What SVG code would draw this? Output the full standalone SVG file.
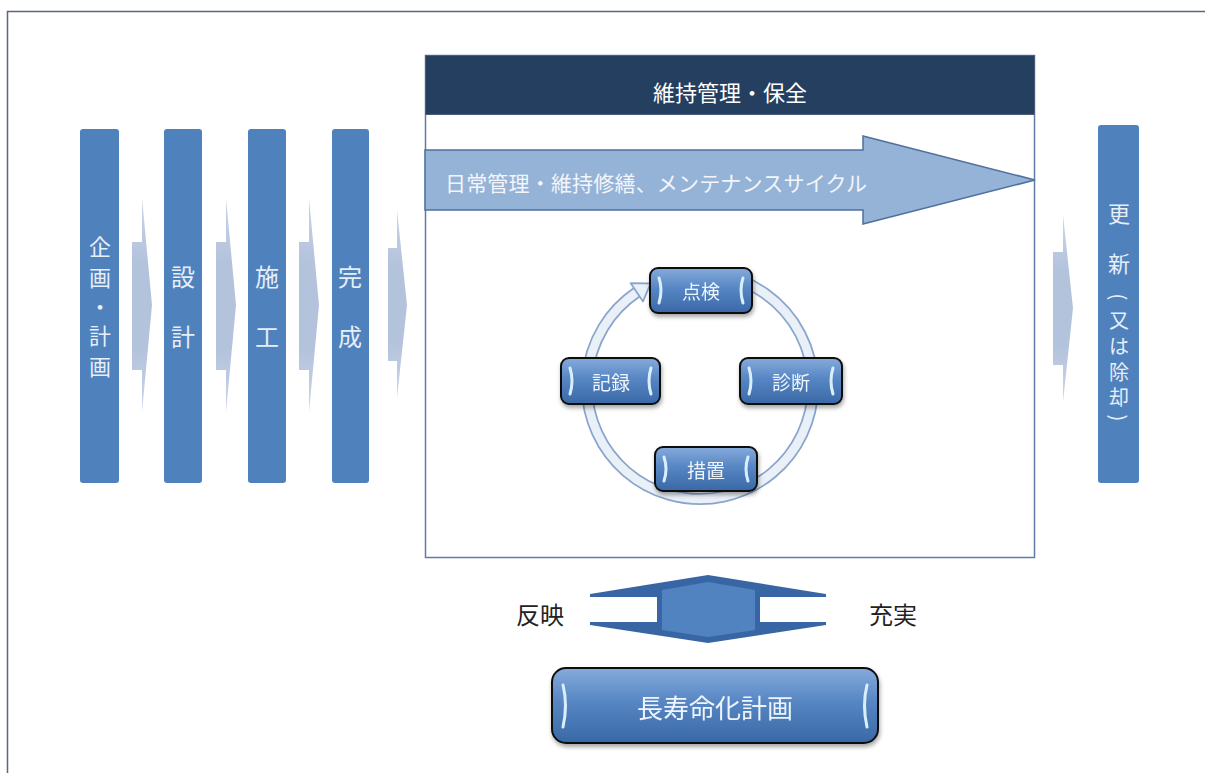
<svg xmlns="http://www.w3.org/2000/svg" width="1205" height="773" viewBox="0 0 1205 773">
<defs>
<style>
text{font-family:"Noto Sans CJK JP","Noto Sans CJK SC",sans-serif;}
.col{fill:#4f81bd;}
.coltxt{fill:#e6eef8;font-size:24px;text-anchor:middle;dominant-baseline:central;}
.c1txt{fill:#e6eef8;font-size:22px;text-anchor:middle;dominant-baseline:central;}
.rtxt{fill:#e6eef8;font-size:20px;text-anchor:middle;dominant-baseline:central;}
.chev{fill:url(#chevGrad);}
.cbox{fill:url(#gloss);stroke:#111;stroke-width:2;}
.hl{fill:none;stroke:#d9efff;stroke-width:3;stroke-linecap:round;}
.ctxt{fill:#eef4fc;font-size:19px;text-anchor:middle;dominant-baseline:central;}
.lbl{fill:#222;font-size:24px;text-anchor:middle;dominant-baseline:central;}
</style>
<linearGradient id="gloss" x1="0" y1="0" x2="0" y2="1">
<stop offset="0" stop-color="#86abdc"/>
<stop offset="0.45" stop-color="#5686c3"/>
<stop offset="1" stop-color="#3a68a6"/>
</linearGradient>
<linearGradient id="chevGrad" x1="0" y1="0" x2="0" y2="1">
<stop offset="0" stop-color="#c9d5e8"/>
<stop offset="0.3" stop-color="#b3c3dc"/>
<stop offset="0.7" stop-color="#b3c3dc"/>
<stop offset="1" stop-color="#c9d5e8"/>
</linearGradient>
<filter id="shadow" x="-20%" y="-20%" width="140%" height="160%">
<feDropShadow dx="1" dy="3" stdDeviation="2" flood-color="#000" flood-opacity="0.35"/>
</filter>
</defs>

<rect x="0" y="0" width="1205" height="773" fill="#ffffff"/>
<g id="frame" fill="none" stroke="#5a6878" stroke-width="1.5">
<path d="M7.5,773 L7.5,11.5 L1205,11.5"/>
</g>

<g id="connectors">
<path class="chev" d="M132,242 L142,242 L142,198 L152,305 L142,412 L142,370 L132,370 Z"/>
<path class="chev" d="M216,242 L226,242 L226,198 L236,305 L226,412 L226,370 L216,370 Z"/>
<path class="chev" d="M299,242 L309,242 L309,198 L319,305 L309,412 L309,370 L299,370 Z"/>
<path class="chev" d="M388,248 L397,248 L397,210 L407,305 L397,398 L397,361 L388,361 Z"/>
<path class="chev" d="M1053,252 L1063,252 L1063,215 L1073,308 L1063,402 L1063,365 L1053,365 Z"/>
<g id="double-arrow">
<path d="M708,575 L826,594 L826,597 L760,597 L760,622 L826,622 L826,625 L708,643 L590,625 L590,622 L657,622 L657,597 L590,597 L590,594 Z" fill="#3866a4"/>
<path d="M708,582 L755,590 L755,630 L708,637 L662,630 L662,590 Z" fill="#5083c0"/>
</g>
</g>

<g id="node-kikaku">
<rect class="col" x="80" y="129" width="39" height="354" rx="3"/>
<text class="c1txt" x="100" y="245">企</text>
<text class="c1txt" x="100" y="276">画</text>
<text class="c1txt" x="100" y="305">・</text>
<text class="c1txt" x="100" y="334">計</text>
<text class="c1txt" x="100" y="365">画</text>
</g>
<g id="node-sekkei">
<rect class="col" x="164" y="129" width="38" height="354" rx="3"/>
<text class="coltxt" x="183" y="275">設</text>
<text class="coltxt" x="183" y="335">計</text>
</g>
<g id="node-sekou">
<rect class="col" x="248" y="129" width="38" height="354" rx="3"/>
<text class="coltxt" x="267" y="275">施</text>
<text class="coltxt" x="267" y="335">工</text>
</g>
<g id="node-kansei">
<rect class="col" x="332" y="129" width="37" height="354" rx="3"/>
<text class="coltxt" x="350" y="275">完</text>
<text class="coltxt" x="350" y="335">成</text>
</g>

<g id="node-maintenance">
<rect x="425.5" y="55.5" width="609" height="502" fill="#ffffff" stroke="#5f7ca6" stroke-width="1.5"/>
<rect x="425.5" y="55.5" width="609" height="59" fill="#243f60" stroke="#4a5f7c" stroke-width="1"/>
<text x="730" y="91" fill="#ffffff" font-size="22" text-anchor="middle" dominant-baseline="central">維持管理・保全</text>
<path d="M425,150 L863,150 L863,136 L1035,180 L863,224 L863,210 L425,210 Z" fill="#95b3d7" stroke="#4f6f9f" stroke-width="1.5"/>
<text x="445" y="191" fill="#f2f6fb" font-size="21" textLength="422">日常管理・維持修繕、メンテナンスサイクル</text>
</g>

<g id="cycle-ring">
<path d="M719.6,274.7 A113,113 0 1 1 636.8,292.3" fill="none" stroke="#8aa5cc" stroke-width="12"/>
<path d="M719.6,274.7 A113,113 0 1 1 636.8,292.3" fill="none" stroke="#eaf0f8" stroke-width="8.5"/>
<path d="M643,301.4 L630.7,283.2 L650.5,283.5 Z" fill="#eaf0f8" stroke="#8aa5cc" stroke-width="1.8" stroke-linejoin="round"/>
</g>

<g id="node-tenken" filter="url(#shadow)">
<rect class="cbox" x="650" y="268" width="102" height="45" rx="8"/>
<path class="hl" d="M659,278 Q663,290 659,303"/>
<path class="hl" d="M743,278 Q739,290 743,303"/>
<text class="ctxt" x="701" y="290">点検</text>
</g>
<g id="node-shindan" filter="url(#shadow)">
<rect class="cbox" x="740" y="358" width="102" height="46" rx="8"/>
<path class="hl" d="M749,368 Q753,381 749,394"/>
<path class="hl" d="M833,368 Q829,381 833,394"/>
<text class="ctxt" x="791" y="381">診断</text>
</g>
<g id="node-sochi" filter="url(#shadow)">
<rect class="cbox" x="655" y="447" width="102" height="44" rx="8"/>
<path class="hl" d="M664,457 Q668,469 664,481"/>
<path class="hl" d="M748,457 Q744,469 748,481"/>
<text class="ctxt" x="706" y="469">措置</text>
</g>
<g id="node-kiroku" filter="url(#shadow)">
<rect class="cbox" x="561" y="358" width="99" height="46" rx="8"/>
<path class="hl" d="M570,368 Q574,381 570,394"/>
<path class="hl" d="M651,368 Q647,381 651,394"/>
<text class="ctxt" x="611" y="381">記録</text>
</g>

<g id="node-koushin">
<rect class="col" x="1098" y="125" width="41" height="358" rx="3"/>
<text class="rtxt" x="1119" y="212" style="font-size:22px">更</text>
<text class="rtxt" x="1119" y="262" style="font-size:22px">新</text>
<text class="rtxt" x="1119" y="297" transform="rotate(90 1119 297)">(</text>
<text class="rtxt" x="1119" y="319">又</text>
<text class="rtxt" x="1119" y="345">は</text>
<text class="rtxt" x="1119" y="371">除</text>
<text class="rtxt" x="1119" y="396">却</text>
<text class="rtxt" x="1119" y="418" transform="rotate(90 1119 418)">)</text>
</g>

<g id="label-hanei"><text class="lbl" x="540" y="613">反映</text></g>
<g id="label-juujitsu"><text class="lbl" x="893" y="613">充実</text></g>

<g id="node-choujumyou" filter="url(#shadow)">
<rect class="cbox" x="552" y="668" width="326" height="75" rx="14"/>
<path class="hl" d="M563,685 Q568,705 563,727"/>
<path class="hl" d="M867,685 Q862,705 867,727"/>
<text x="715" y="706" fill="#eef4fc" font-size="26" text-anchor="middle" dominant-baseline="central">長寿命化計画</text>
</g>
</svg>
